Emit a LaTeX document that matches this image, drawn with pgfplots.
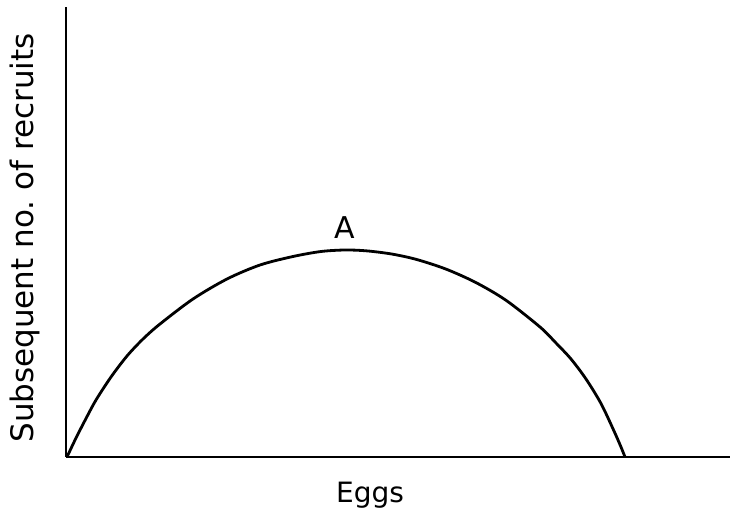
\documentclass[border=0pt]{standalone}
\usepackage{pgfplots}
\pgfplotsset{compat=1.18}
\usepackage{fontspec}
\setmainfont{DejaVu Sans}
\begin{document}
\begin{tikzpicture}[x=1pt,y=1pt]
\begin{axis}[
  name=ax,
  at={(0,0)}, anchor=south west,
  width=332pt, height=225pt, scale only axis,
  xmin=0, xmax=664, ymin=0, ymax=450,
  axis lines=left,
  axis line style={-, line width=0.9pt},
  ticks=none,
  clip=false,
  font=\fontsize{14}{16}\selectfont,
]
\addplot[black, line width=1.4pt, smooth, tension=0.5] coordinates {
(1,0) (10,19) (20,38.5) (30,57) (45,80) (61,101) (77,118) (94,133) (127,158)
(161,178) (194,192) (227,200.5) (255,205.5) (279,207)
(300,206.2) (325,203.1) (350,197.7) (380,187.9) (410,174.4) (440,156.7)
(474,130) (490,114) (505,98) (520,78) (535,53.5) (548,26) (555,10) (559,0)
};
\node[font=\fontsize{15}{17}\selectfont] at (axis cs:279,229) {A};
\node at (axis cs:304,-38) {Eggs};
\node[rotate=90, font=\fontsize{15.5}{17}\selectfont] at (axis cs:-41,219) {Subsequent no.\ of recruits};
\end{axis}
\path[use as bounding box] ([shift={(-33pt,-32pt)}]ax.south west) rectangle ([shift={(2pt,3.5pt)}]ax.north east);
\end{tikzpicture}
\end{document}
